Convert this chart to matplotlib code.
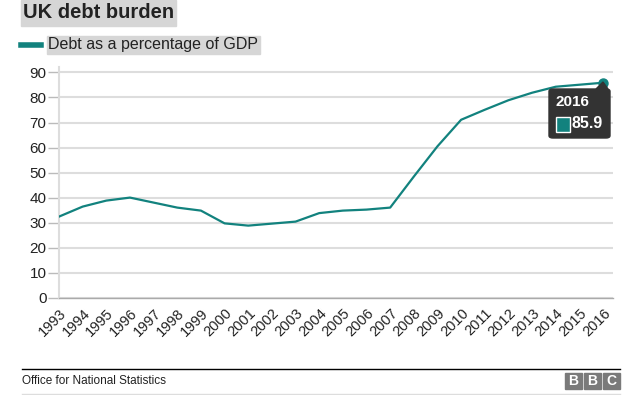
import matplotlib.pyplot as plt
from matplotlib.patches import FancyBboxPatch, Rectangle, Polygon
from matplotlib.lines import Line2D

plt.rcParams['font.family'] = ['Liberation Sans', 'DejaVu Sans']

years = list(range(1993, 2017))
debt = [32.4, 36.4, 38.8, 40.0, 38.0, 36.0, 34.8, 29.7, 28.8, 29.6, 30.4, 33.8,
        34.8, 35.2, 36.0, 48.4, 60.5, 71.1, 75.1, 78.9, 81.9, 84.3, 85.1, 85.9]
yticks = [0, 10, 20, 30, 40, 50, 60, 70, 80, 90]

teal = '#12827e'
grid_c = '#dddddd'

fig = plt.figure(figsize=(6.4, 3.95), dpi=100)
ax = fig.add_axes([59 / 640, 1 - 297.7 / 395, 554 / 640, 231 / 395])

ax.plot(years, debt, color=teal, lw=1.6, solid_joinstyle='round', zorder=3)
ax.plot(years[-1], debt[-1], 'o', color=teal, ms=6.5, zorder=4, clip_on=False)

ax.set_xlim(1993, 2016.42)
ax.set_ylim(0, 92.3)
ax.set_yticks(yticks)
ax.set_xticks(years)
ax.set_xticklabels([str(y) for y in years], rotation=45, ha='right',
                   rotation_mode='anchor', fontsize=10.5, color='#222222')
ax.tick_params(axis='x', length=0, pad=6)
ax.tick_params(axis='y', length=8, width=1, color='#bbbbbb', labelsize=11,
               labelcolor='#222222', pad=1)
ax.grid(axis='y', color=grid_c, lw=1.5)
ax.set_axisbelow(True)
for s in ['top', 'right']:
    ax.spines[s].set_visible(False)
ax.spines['left'].set_color(grid_c)
ax.spines['left'].set_linewidth(1.5)
ax.spines['bottom'].set_color('#aaaaaa')
ax.spines['bottom'].set_linewidth(1)

# title with grey background
fig.patches.append(Rectangle((21 / 640, 1 - 26 / 395), 155 / 640, 26 / 395,
                             transform=fig.transFigure, color='#d6d6d6', zorder=0))
fig.text(23 / 640, 1 - 13 / 395, 'UK debt burden', fontsize=14.5, fontweight='bold',
         color='#222222', va='center', ha='left')

# legend
fig.lines.append(Line2D([21 / 640, 41 / 640], [1 - 45 / 395, 1 - 45 / 395],
                        transform=fig.transFigure, color=teal, lw=4))
fig.patches.append(Rectangle((47 / 640, 1 - 54 / 395), 213 / 640, 18 / 395,
                             transform=fig.transFigure, color='#d6d6d6', zorder=0))
fig.text(48 / 640, 1 - 45 / 395, 'Debt as a percentage of GDP', fontsize=11.5,
         color='#222222', va='center', ha='left')

# tooltip
tip = FancyBboxPatch((549 / 640, 1 - 138 / 395), 61 / 640, 49 / 395,
                     boxstyle='round,pad=0,rounding_size=0.006',
                     transform=fig.transFigure, color='#333333', zorder=5)
fig.patches.append(tip)
fig.patches.append(Polygon([(596 / 640, 1 - 89 / 395), (603 / 640, 1 - 82 / 395),
                            (608 / 640, 1 - 89 / 395)], closed=True,
                           transform=fig.transFigure, color='#333333', zorder=5))
fig.text(555 / 640, 1 - 102 / 395, '2016', fontsize=11, fontweight='bold',
         color='white', va='center', ha='left', zorder=6)
fig.patches.append(Rectangle((556 / 640, 1 - 132 / 395), 14 / 640, 15 / 395,
                             transform=fig.transFigure, facecolor=teal,
                             edgecolor='white', lw=1, zorder=6))
fig.text(571 / 640, 1 - 124 / 395, '85.9', fontsize=11.5, fontweight='bold',
         color='white', va='center', ha='left', zorder=6)

# footer
fig.lines.append(Line2D([22 / 640, 620 / 640], [1 - 369 / 395, 1 - 369 / 395],
                        transform=fig.transFigure, color='black', lw=1))
fig.lines.append(Line2D([22 / 640, 620 / 640], [1 - 394 / 395, 1 - 394 / 395],
                        transform=fig.transFigure, color='#dddddd', lw=1))
fig.text(22 / 640, 1 - 381 / 395, 'Office for National Statistics', fontsize=8.5,
         color='#222222', va='center', ha='left')
for i, letter in enumerate('BBC'):
    x0 = 565 / 640 + i * 19 / 640
    fig.patches.append(Rectangle((x0, 1 - 389 / 395), 17 / 640, 16 / 395,
                                 transform=fig.transFigure, color='#7a7a7a'))
    fig.text(x0 + 8.5 / 640, 1 - 381 / 395, letter, fontsize=10, fontweight='bold',
             color='white', va='center', ha='center')

fig.savefig('out.png', dpi=100)
